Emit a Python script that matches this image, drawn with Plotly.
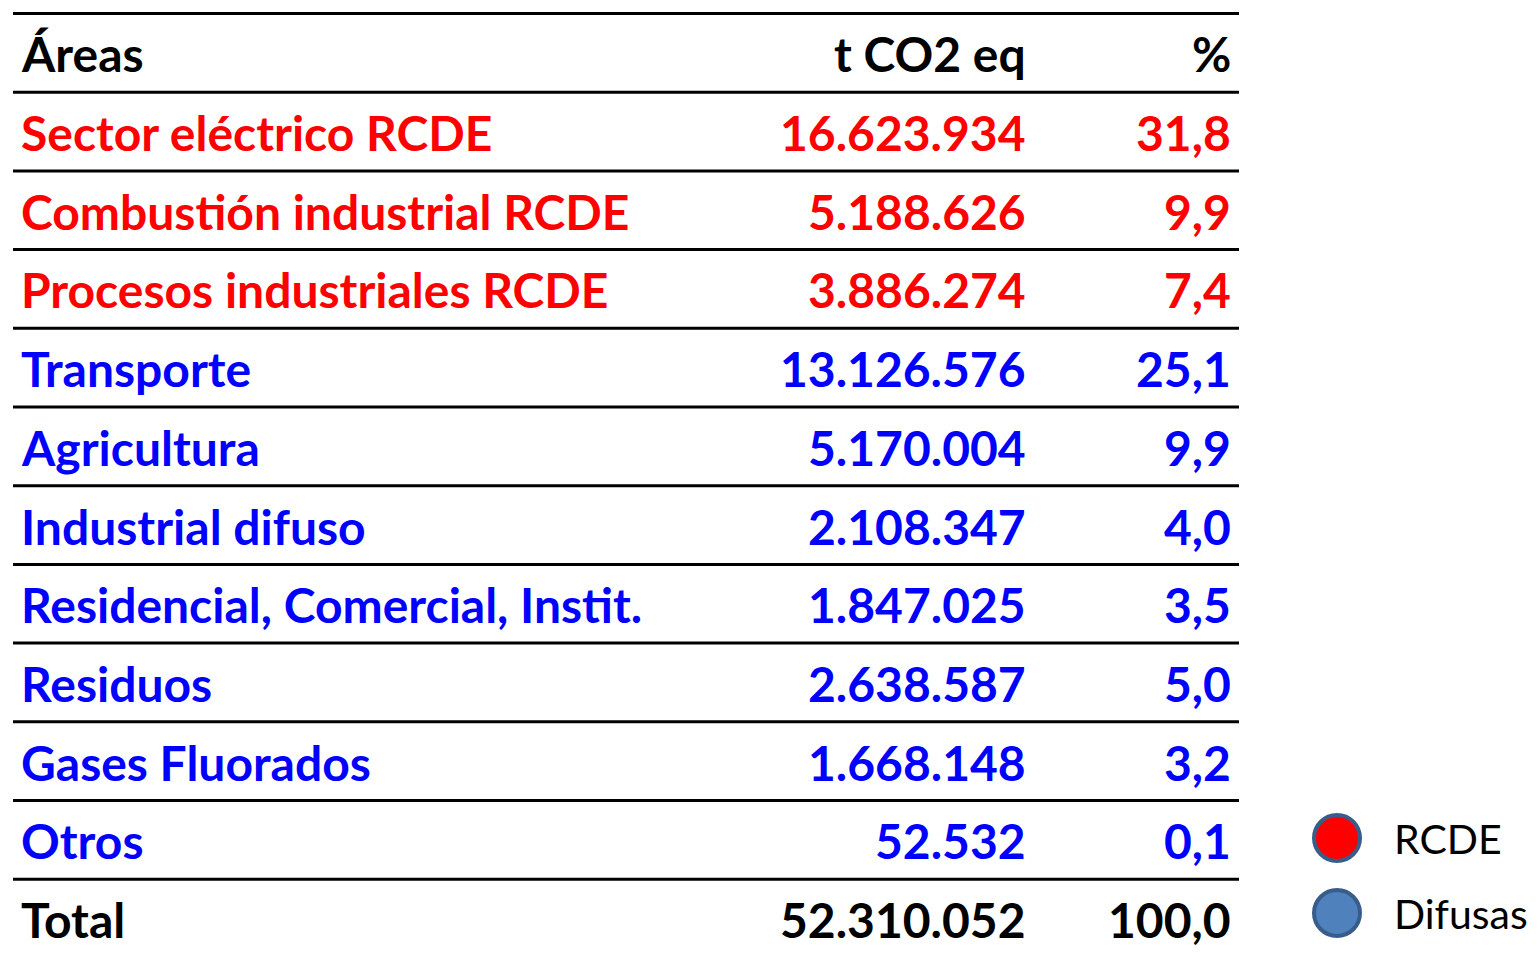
import plotly.graph_objects as go

areas = ["Sector eléctrico RCDE", "Combustión industrial RCDE", "Procesos industriales RCDE",
         "Transporte", "Agricultura", "Industrial difuso", "Residencial, Comercial, Instit.",
         "Residuos", "Gases Fluorados", "Otros"]
t_co2 = [16623934, 5188626, 3886274, 13126576, 5170004, 2108347, 1847025, 2638587, 1668148, 52532]
pct = [31.8, 9.9, 7.4, 25.1, 9.9, 4.0, 3.5, 5.0, 3.2, 0.1]
grupo = ["RCDE", "RCDE", "RCDE", "Difusas", "Difusas", "Difusas", "Difusas", "Difusas", "Difusas", "Difusas"]
total_t = 52310052
total_pct = 100.0
headers = ["Áreas", "t CO2 eq", "%"]
legend_labels = ["RCDE", "Difusas"]

text_color = {"RCDE": "#FF0000", "Difusas": "#0000FF"}
legend_fill = {"RCDE": "#FF0000", "Difusas": "#4F81BD"}

def fmt_int(v):
    return f"{v:,}".replace(",", ".")

def fmt_pct(v):
    return f"{v:.1f}".replace(".", ",")

FONT = "Lato"
FS = 48
x_name, x_t, x_p = 19, 1028, 1233
line_x0, line_x1 = 13, 1239
row_h = 78.7
top = 13.5
OFF = 8  # page body margin compensation

fig = go.Figure()
ann = []
shapes = []

def row_center(i):
    return top + row_h * i + row_h / 2 + 1

def add_row(i, cells, color, bold=True):
    y = row_center(i)
    for (txt, x, anchor) in zip(cells, [x_name, x_t, x_p], ["left", "right", "right"]):
        ann.append(dict(x=x, y=y, xref="x", yref="y", text=f"<b>{txt}</b>" if bold else txt,
                        showarrow=False, xanchor=anchor, yanchor="middle",
                        font=dict(family=FONT, size=FS, color=color)))

add_row(0, headers, "#000000")
for k in range(len(areas)):
    add_row(k + 1, [areas[k], fmt_int(t_co2[k]), fmt_pct(pct[k])], text_color[grupo[k]])
add_row(len(areas) + 1, ["Total", fmt_int(total_t), fmt_pct(total_pct)], "#000000")

for i in range(len(areas) + 2):
    y = top + row_h * i
    shapes.append(dict(type="line", xref="x", yref="y", x0=line_x0, x1=line_x1, y0=y, y1=y,
                       line=dict(color="#000000", width=3)))

leg_y = [838, 913]
for lab, y in zip(legend_labels, leg_y):
    fig.add_trace(go.Scatter(x=[1337], y=[y], mode="markers",
                             marker=dict(size=46, color=legend_fill[lab],
                                         line=dict(color="#385D8A", width=4)),
                             showlegend=False, hoverinfo="skip"))
    ann.append(dict(x=1392, y=y, xref="x", yref="y", text=lab, showarrow=False,
                    xanchor="left", yanchor="middle",
                    font=dict(family=FONT, size=41, color="#000000")))

fig.update_layout(
    width=1539, height=955, margin=dict(l=0, r=0, t=0, b=0),
    paper_bgcolor="white", plot_bgcolor="white",
    xaxis=dict(range=[OFF, 1539 + OFF], visible=False, fixedrange=True),
    yaxis=dict(range=[955 + OFF, OFF], visible=False, fixedrange=True),
    annotations=ann, shapes=shapes,
)
fig.write_html("out.html")
